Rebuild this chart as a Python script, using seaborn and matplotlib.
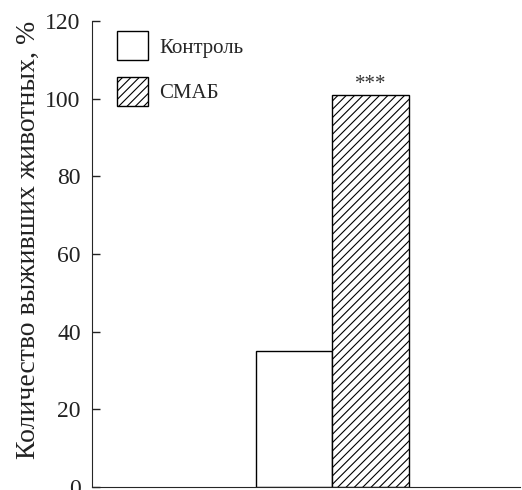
import pandas as pd
import matplotlib.pyplot as plt
import seaborn as sns

# данные
groups = ["Контроль", "СМАБ"]
survived = [35, 101]
marks = ["", "***"]
hatches = ["", "////"]

df = pd.DataFrame({"group": groups, "survived": survived})

sns.set_style("ticks")
plt.rcParams['font.family'] = ['Liberation Serif', 'DejaVu Serif']
plt.rcParams['hatch.linewidth'] = 0.8

fig = plt.figure(figsize=(5.22, 4.9), dpi=100)
ax = fig.add_axes([0.176, 0.006, 0.82, 0.951])

sns.barplot(data=df, x="group", y="survived", hue="group", width=1.0,
            palette=["white", "white"], edgecolor="black", linewidth=1.0,
            legend=False, ax=ax)

for bar, h in zip(ax.patches, hatches):
    bar.set_hatch(h)

for bar, m in zip(ax.patches, marks):
    if m:
        ax.text(bar.get_x() + bar.get_width() / 2, bar.get_height() + 0.3, m,
                ha="center", va="bottom", fontsize=15, color='#333333')

ax.set_xlim(-2.644, 2.951)
ax.set_ylim(0, 120)
ax.set_yticks(range(0, 121, 20))
ax.tick_params(axis='y', labelsize=17, length=6, width=1, direction='in',
               pad=8, colors='#222222')
ax.tick_params(axis='x', length=0, labelbottom=False)
ax.set_xlabel("")
ax.set_ylabel("Количество выживших животных, %", fontsize=20, color='#222222')
ax.yaxis.set_label_coords(-0.12, 0.53)
sns.despine(ax=ax)

ax.legend(ax.patches, groups, loc="upper left", bbox_to_anchor=(0.016, 1.018),
          frameon=False, fontsize=15, handlelength=1.45, handleheight=1.75,
          labelspacing=0.8, handletextpad=0.55)

fig.savefig("out.png", dpi=100)
